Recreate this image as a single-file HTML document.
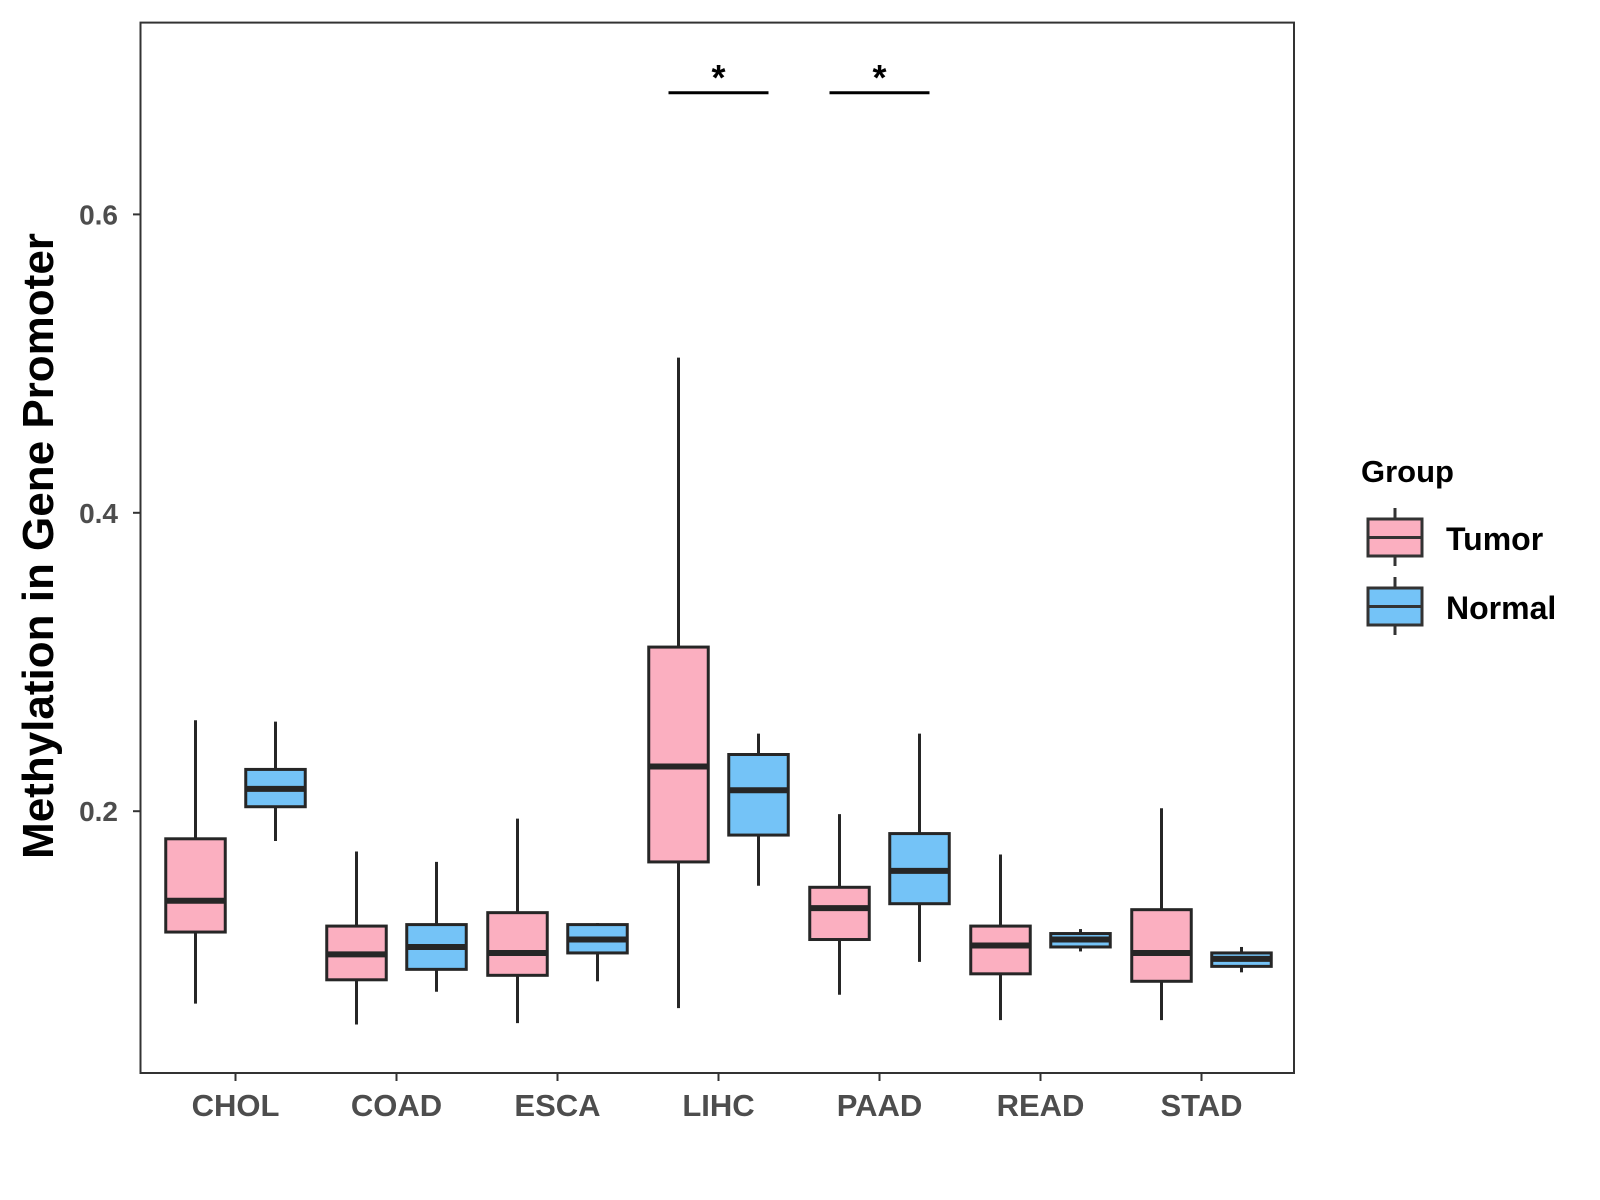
<!DOCTYPE html>
<html><head><meta charset="utf-8"><style>
body{margin:0;background:#fff}
svg{display:block;font-family:"Liberation Sans",Arial,sans-serif}
</style></head><body>
<svg id="chart" width="1600" height="1200" viewBox="0 0 1600 1200">
<rect x="0" y="0" width="1600" height="1200" fill="#fff"/>
<g id="marks"></g>
<rect x="140.5" y="22.6" width="1153.5" height="1050.4" fill="none" stroke="#333" stroke-width="2"/>
<g id="axes"></g>
<text transform="translate(53,546) rotate(-90)" text-anchor="middle" font-size="44" font-weight="bold" fill="#000">Methylation in Gene Promoter</text>
<g>
<text x="1361" y="482" font-size="31" font-weight="bold">Group</text>
<g>
<line x1="1395" y1="508" x2="1395" y2="566" stroke="#333" stroke-width="3"/>
<rect x="1368" y="519" width="54" height="37" fill="#FBAFC0" stroke="#333" stroke-width="3"/>
<line x1="1368" y1="537.5" x2="1422" y2="537.5" stroke="#333" stroke-width="3"/>
<text x="1446" y="550" font-size="32" font-weight="bold">Tumor</text>
</g>
<g>
<line x1="1395" y1="577" x2="1395" y2="635" stroke="#333" stroke-width="3"/>
<rect x="1368" y="588" width="54" height="37" fill="#74C3F7" stroke="#333" stroke-width="3"/>
<line x1="1368" y1="606.5" x2="1422" y2="606.5" stroke="#333" stroke-width="3"/>
<text x="1446" y="619" font-size="32" font-weight="bold">Normal</text>
</g>
</g>
</svg>
<script>
const categories = ["CHOL","COAD","ESCA","LIHC","PAAD","READ","STAD"];
// [low, q1, median, q3, high]
const tumorStats = [
 [0.071,0.119,0.140,0.1815,0.261],
 [0.057,0.087,0.104,0.123,0.173],
 [0.058,0.090,0.105,0.132,0.195],
 [0.068,0.166,0.230,0.310,0.504],
 [0.077,0.114,0.135,0.149,0.198],
 [0.060,0.091,0.110,0.123,0.171],
 [0.060,0.086,0.105,0.134,0.202]
];
const normalStats = [
 [0.180,0.203,0.215,0.228,0.260],
 [0.079,0.094,0.109,0.124,0.166],
 [0.086,0.105,0.114,0.124,0.125],
 [0.150,0.184,0.214,0.238,0.252],
 [0.099,0.138,0.160,0.185,0.252],
 [0.106,0.109,0.114,0.118,0.121],
 [0.092,0.096,0.101,0.105,0.109]
];
const yTicks = [0.2,0.4,0.6];
const yTickLabels = ["0.2","0.4","0.6"];
const sigCategories = ["LIHC","PAAD"];
const sigLevel = 0.6815;
const sigLabels = ["*","*"];

const NS="http://www.w3.org/2000/svg";
function y(v){return 811.2-(v-0.2)*1492;}
function x(i){return 235.5+i*161;}
function mk(tag,attrs,parent){const e=document.createElementNS(NS,tag);for(const k in attrs)e.setAttribute(k,attrs[k]);parent.appendChild(e);return e;}
const marks=document.getElementById('marks');
const axes=document.getElementById('axes');
function drawBox(cx,s,fill,name){
  const g=mk('g',{},marks);
  
  
  const w=59.5;
  mk('line',{x1:cx,x2:cx,y1:y(s[4]),y2:y(s[0]),stroke:'#262626','stroke-width':3},g);
  mk('rect',{x:cx-w/2,y:y(s[3]),width:w,height:y(s[1])-y(s[3]),fill:fill,stroke:'#262626','stroke-width':3},g);
  mk('line',{x1:cx-w/2,x2:cx+w/2,y1:y(s[2]),y2:y(s[2]),stroke:'#262626','stroke-width':6},g);
}
categories.forEach((c,i)=>{
  drawBox(x(i)-40,tumorStats[i],'#FBAFC0','box-tumor-'+c.toLowerCase());
  drawBox(x(i)+40,normalStats[i],'#74C3F7','box-normal-'+c.toLowerCase());
  mk('line',{x1:x(i),x2:x(i),y1:1073,y2:1081,stroke:'#333','stroke-width':2},axes);
  const t=mk('text',{x:x(i),y:1116,'text-anchor':'middle','font-size':'31','font-weight':'bold',fill:'#4d4d4d'},axes);
  t.textContent=c;
  
  
});
yTicks.forEach((v,i)=>{
  mk('line',{x1:133,x2:140.5,y1:y(v),y2:y(v),stroke:'#333','stroke-width':2},axes);
  const t=mk('text',{x:118,y:y(v)+10,'text-anchor':'end','font-size':'28','font-weight':'bold',fill:'#4d4d4d'},axes);
  t.textContent=yTickLabels[i];
  
  
});
sigCategories.forEach((c,j)=>{
  const i=categories.indexOf(c);
  const g=mk('g',{},marks);
  
  
  mk('line',{x1:x(i)-50,x2:x(i)+50,y1:y(sigLevel),y2:y(sigLevel),stroke:'#000','stroke-width':3},g);
  const t=mk('text',{x:x(i),y:y(sigLevel)-3,'text-anchor':'middle','font-size':'36','font-weight':'bold',fill:'#000'},g);
  t.textContent=sigLabels[j];
});
</script>
</body></html>
